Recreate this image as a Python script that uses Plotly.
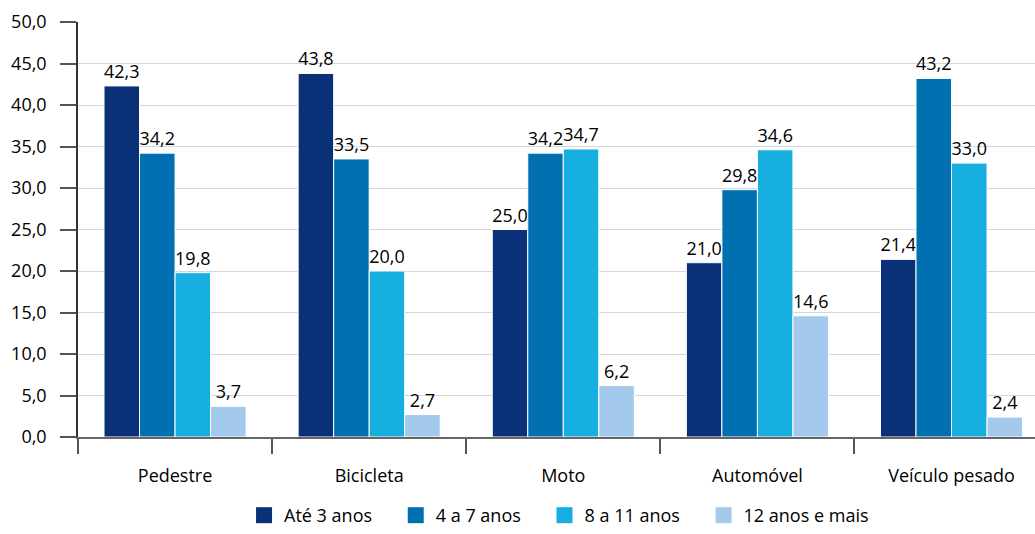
import plotly.graph_objects as go

categories = ["Pedestre", "Bicicleta", "Moto", "Automóvel", "Veículo pesado"]
series_names = ["Até 3 anos", "4 a 7 anos", "8 a 11 anos", "12 anos e mais"]
ate3 = [42.3, 43.8, 25.0, 21.0, 21.4]
a4_7 = [34.2, 33.5, 34.2, 29.8, 43.2]
a8_11 = [19.8, 20.0, 34.7, 34.6, 33.0]
a12 = [3.7, 2.7, 6.2, 14.6, 2.4]
colors = ["#0a3178", "#0070b0", "#16afe0", "#a3c9ec"]
tick_vals = [0, 5, 10, 15, 20, 25, 30, 35, 40, 45, 50]

FONT = "Open Sans"
PAD = "\u00a0" * 4  # extra spacing between legend entries
fig = go.Figure()
for name, vals, c in zip(series_names, [ate3, a4_7, a8_11, a12], colors):
    fig.add_trace(go.Bar(
        x=categories, y=vals, name=name, showlegend=False,
        marker=dict(color=c, line=dict(color="white", width=1)),
        text=[f"{v:.1f}".replace(".", ",") for v in vals],
        textposition="outside", textfont=dict(color="black", size=18, family=FONT),
        cliponaxis=False,
    ))
# legend entries with square swatches
for i, (name, c) in enumerate(zip(series_names, colors)):
    fig.add_trace(go.Scatter(
        x=[None], y=[None], mode="markers",
        name=name + (PAD if i < len(series_names) - 1 else ""),
        marker=dict(symbol="square", size=16, color=c),
        showlegend=True,
    ))

fig.update_layout(
    width=1035, height=534,
    margin=dict(l=78, r=0, t=22, b=97),
    barmode="group", bargap=0.268, bargroupgap=0,
    plot_bgcolor="white", paper_bgcolor="white",
    font=dict(family=FONT, size=18, color="black"),
    separators=",.",
    showlegend=True,
    legend=dict(orientation="h", x=0.1735, xanchor="left",
                yref="container", y=0.0, yanchor="bottom",
                font=dict(size=18, family=FONT), traceorder="normal",
                itemwidth=30, tracegroupgap=0),
)
fig.update_xaxes(
    automargin=False,
    range=[-0.5, 4.43],
    showline=True, linecolor="#666666", linewidth=1.5,
    ticks="outside", tickson="boundaries", ticklen=15, tickcolor="#555555", tickwidth=1.5,
    ticklabelstandoff=22,
    tickfont=dict(size=18, family=FONT),
)
fig.update_yaxes(
    automargin=False,
    range=[0, 50], tickvals=tick_vals, tickformat=".1f",
    showgrid=True, gridcolor="#d6d6d6", gridwidth=1,
    showline=True, linecolor="#333333", linewidth=1.5,
    ticks="outside", ticklen=16, tickcolor="#555555", tickwidth=1.5,
    ticklabelstandoff=10,
    tickfont=dict(size=18, family=FONT),
    zeroline=False,
)
fig.write_html(
    "out.html",
    config={"displayModeBar": False},
    post_script="document.body.style.margin='0';document.body.style.overflow='hidden';",
)
